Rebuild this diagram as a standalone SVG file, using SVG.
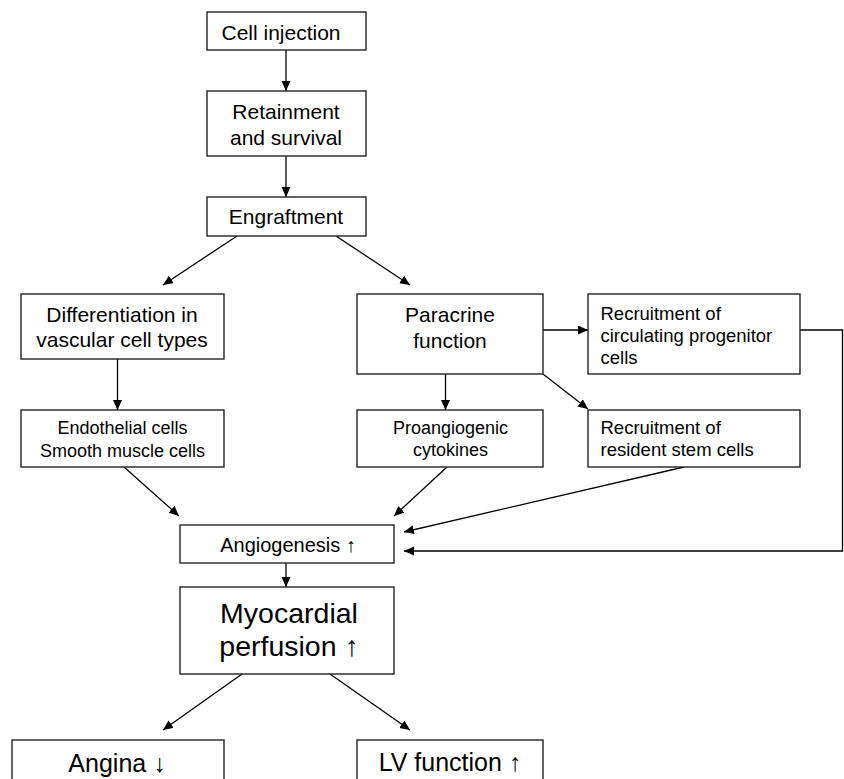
<svg xmlns="http://www.w3.org/2000/svg" width="844" height="779" viewBox="0 0 844 779">
<style>
rect.box{fill:#fff;stroke:#222;stroke-width:1.4}
text{font-family:"Liberation Sans",Arial,sans-serif;fill:#000}
.l{font-size:21px;text-anchor:middle}
.s{font-size:18px;text-anchor:middle}
.a{font-size:20px;text-anchor:middle}
.r{font-size:18.5px}
.m{font-size:28.5px;text-anchor:middle}
.o{font-size:25px;text-anchor:middle}
#connectors line,#connectors polyline{stroke:#000;stroke-width:1.3;fill:none;marker-end:url(#ah)}
</style>
<defs>
<marker id="ah" markerUnits="userSpaceOnUse" markerWidth="11" markerHeight="10" refX="10" refY="4.5" orient="auto">
<path d="M0,0 L10,4.5 L0,9 z" fill="#000"/>
</marker>
</defs>
<rect width="844" height="779" fill="#fff"/>
<g id="connectors">
<line x1="286" y1="50" x2="286" y2="91"/>
<line x1="286" y1="156" x2="286" y2="197"/>
<line x1="237" y1="236" x2="163" y2="285"/>
<line x1="336" y1="236" x2="410" y2="285"/>
<line x1="117.5" y1="359" x2="117.5" y2="410"/>
<line x1="445.5" y1="374" x2="445.5" y2="410"/>
<line x1="543" y1="330" x2="588" y2="330"/>
<line x1="543" y1="374" x2="588" y2="409"/>
<line x1="124" y1="467" x2="179" y2="516"/>
<line x1="447" y1="467" x2="394" y2="516"/>
<line x1="684" y1="467" x2="404" y2="532"/>
<polyline points="800,330 842.5,330 842.5,551 404,551"/>
<line x1="286" y1="563" x2="286" y2="587"/>
<line x1="242" y1="674" x2="163" y2="730"/>
<line x1="330" y1="674" x2="410" y2="730"/>
</g>
<g id="cell-injection"><rect class="box" x="207" y="12" width="159" height="38"/><text class="l" x="281" y="40">Cell injection</text></g>
<g id="retainment"><rect class="box" x="207" y="91" width="159" height="65"/><text class="l" x="286" y="119">Retainment</text><text class="l" x="286" y="145">and survival</text></g>
<g id="engraftment"><rect class="box" x="207" y="197" width="159" height="39"/><text class="l" x="286" y="224">Engraftment</text></g>
<g id="differentiation"><rect class="box" x="21" y="294" width="203" height="65"/><text class="l" x="122" y="322">Differentiation in</text><text class="l" x="122" y="347">vascular cell types</text></g>
<g id="paracrine"><rect class="box" x="357" y="294" width="186" height="80"/><text class="l" x="450" y="322">Paracrine</text><text class="l" x="450" y="348">function</text></g>
<g id="recruit-circulating"><rect class="box" x="588" y="294" width="212" height="80"/><text class="r" x="600.5" y="320">Recruitment of</text><text class="r" x="600.5" y="342">circulating progenitor</text><text class="r" x="600.5" y="364">cells</text></g>
<g id="endothelial"><rect class="box" x="21" y="410" width="203" height="57"/><text class="s" x="122.5" y="433.5">Endothelial cells</text><text class="s" x="122.5" y="456.5">Smooth muscle cells</text></g>
<g id="proangiogenic"><rect class="box" x="357" y="410" width="186" height="57"/><text class="s" x="450.5" y="434">Proangiogenic</text><text class="s" x="450.5" y="456">cytokines</text></g>
<g id="recruit-resident"><rect class="box" x="588" y="410" width="212" height="57"/><text class="r" x="600.5" y="434">Recruitment of</text><text class="r" x="600.5" y="456">resident stem cells</text></g>
<g id="angiogenesis"><rect class="box" x="180" y="525" width="214" height="38"/><text class="a" x="288" y="552">Angiogenesis ↑</text></g>
<g id="myocardial"><rect class="box" x="180" y="587" width="214" height="87"/><text class="m" x="289" y="623">Myocardial</text><text class="m" x="289" y="656">perfusion ↑</text></g>
<g id="angina"><rect class="box" x="12" y="740" width="212" height="60"/><text class="o" x="117" y="772">Angina ↓</text></g>
<g id="lv-function"><rect class="box" x="357" y="740" width="186" height="60"/><text class="o" x="450" y="771">LV function ↑</text></g>
</svg>
